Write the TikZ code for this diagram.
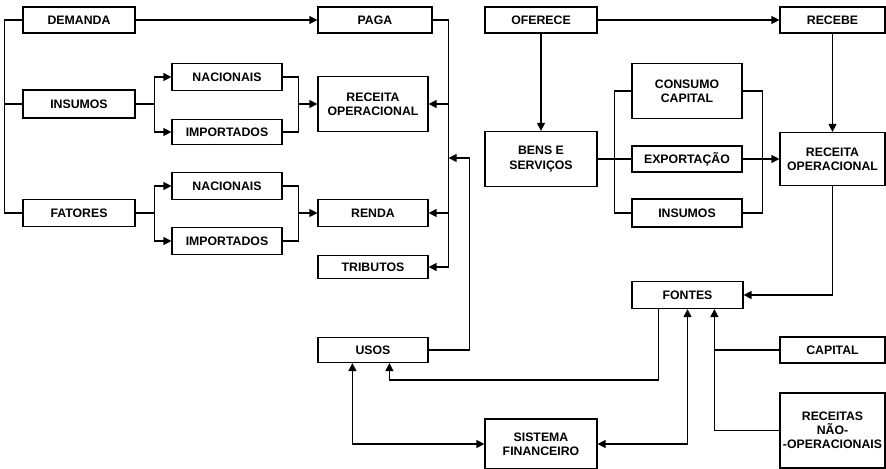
\documentclass[tikz,border=0pt]{standalone}
\usepackage{fontspec}
\setmainfont{Liberation Sans}
\usetikzlibrary{arrows.meta,calc}
\begin{document}
\begin{tikzpicture}[x=0.02cm, y=-0.02cm, >={Triangle[length=4.5pt,width=4.5pt]},
  line width=0.7pt, font=\fontsize{7}{8}\selectfont\bfseries,
  box/.style={draw,align=center,inner sep=0pt,minimum width=2.22cm,minimum height=0.52cm},
  tall/.style={box,minimum height=1.1cm},
  rbox/.style={box,minimum width=2.1cm}]
  \useasboundingbox (0,0) rectangle (886,469);
  % demand side
  \node[box,minimum width=2.24cm] (dem) at (79,20) {DEMANDA};
  \node[box,minimum width=2.24cm,minimum height=0.56cm] (insl) at (79,104) {INSUMOS};
  \node[box,minimum width=2.24cm,minimum height=0.54cm] (fat) at (79,213) {FATORES};
  \node[box,minimum width=2.2cm,minimum height=0.54cm] (nac1) at (227,77) {NACIONAIS};
  \node[box,minimum width=2.2cm,minimum height=0.5cm] (imp1) at (227,132) {IMPORTADOS};
  \node[box,minimum width=2.2cm,minimum height=0.54cm] (nac2) at (227,186) {NACIONAIS};
  \node[box,minimum width=2.2cm,minimum height=0.54cm] (imp2) at (227,241) {IMPORTADOS};
  \node[box,minimum width=2.28cm] (paga) at (375,20) {PAGA};
  \node[tall,minimum width=2.2cm] (recl) at (373,104) {RECEITA\\OPERACIONAL};
  \node[box,minimum width=2.2cm,minimum height=0.54cm] (renda) at (373,213) {RENDA};
  \node[box,minimum width=2.2cm,minimum height=0.46cm] (trib) at (373,267) {TRIBUTOS};
  \node[box,minimum width=2.2cm,minimum height=0.5cm] (usos) at (373,350) {USOS};
  % supply side
  \node[box,minimum width=2.24cm] (ofe) at (541,20) {OFERECE};
  \node[tall,minimum width=2.24cm] (bens) at (541,159) {BENS E\\SERVIÇOS};
  \node[tall,minimum width=2.2cm] (cons) at (687,91) {CONSUMO\\CAPITAL};
  \node[box,minimum width=2.2cm] (expo) at (687,159) {EXPORTAÇÃO};
  \node[box,minimum width=2.2cm,minimum height=0.56cm] (insr) at (687,213) {INSUMOS};
  \node[rbox] (receb) at (832.5,20) {RECEBE};
  \node[rbox,minimum height=1.06cm] (recr) at (832.5,159) {RECEITA\\OPERACIONAL};
  \node[box,minimum width=2.22cm,minimum height=0.54cm] (fontes) at (687.5,295) {FONTES};
  \node[rbox] (capital) at (832.5,350) {CAPITAL};
  \node[rbox,minimum height=1.5cm] (rno) at (832.5,430.5) {RECEITAS\\NÃO-\\-OPERACIONAIS};
  \node[box,minimum width=2.24cm,minimum height=1.0cm] (sist) at (541,444) {SISTEMA\\FINANCEIRO};
  % left trunk
  \draw (dem.west) -- ++(-18,0) |- (fat.west);
  \draw (insl.west) -- ++(-18,0);
  \draw[->] (dem) -- (paga);
  % insumos split
  \draw (insl.east) -- ++(19,0) coordinate (s1);
  \draw[->] (s1) |- (nac1);
  \draw[->] (s1) |- (imp1);
  \draw (nac1.east) -- ++(16,0) coordinate (j1) |- (imp1.east);
  \draw[->] (j1 |- recl.west) -- (recl.west);
  % fatores split
  \draw (fat.east) -- ++(19,0) coordinate (s2);
  \draw[->] (s2) |- (nac2);
  \draw[->] (s2) |- (imp2);
  \draw (nac2.east) -- ++(16,0) coordinate (j2) |- (imp2.east);
  \draw[->] (j2 |- renda.west) -- (renda.west);
  % paga line
  \draw (paga.east) -- ++(16,0) coordinate (p1);
  \draw[->] (p1) |- (trib.east);
  \draw[->] (p1 |- recl.east) -- (recl.east);
  \draw[->] (p1 |- renda.east) -- (renda.east);
  \coordinate (pu) at (p1 |- 0,158);
  \draw[->] (usos.east) -- ++(41,0) |- (pu);
  % supply side links
  \draw[->] (ofe) -- (receb);
  \draw[->] (ofe) -- (bens);
  \draw (bens) -- (expo);
  \draw (cons.west) -- ++(-17,0) |- (insr.west);
  \draw (cons.east) -- ++(20,0) |- (insr.east);
  \draw[->] (expo) -- (recr);
  \draw[->] (receb) -- (recr);
  \draw[->] (recr.south) |- (fontes.east);
  % fontes and usos
  \coordinate (f1) at ($(fontes.south west)+(27,0)$);
  \coordinate (f3) at ($(fontes.south west)+(83,0)$);
  \draw[->] (f1) -- ++(0,71) -| ($(usos.south west)+(72,0)$);
  \draw[<->] (sist.east) -| (fontes.south);
  \draw[<->] ($(usos.south west)+(35,0)$) |- (sist.west);
  \draw[->] (rno.west) -| (f3);
  \draw (capital.west) -- (capital.west -| f3);
\end{tikzpicture}
\end{document}
